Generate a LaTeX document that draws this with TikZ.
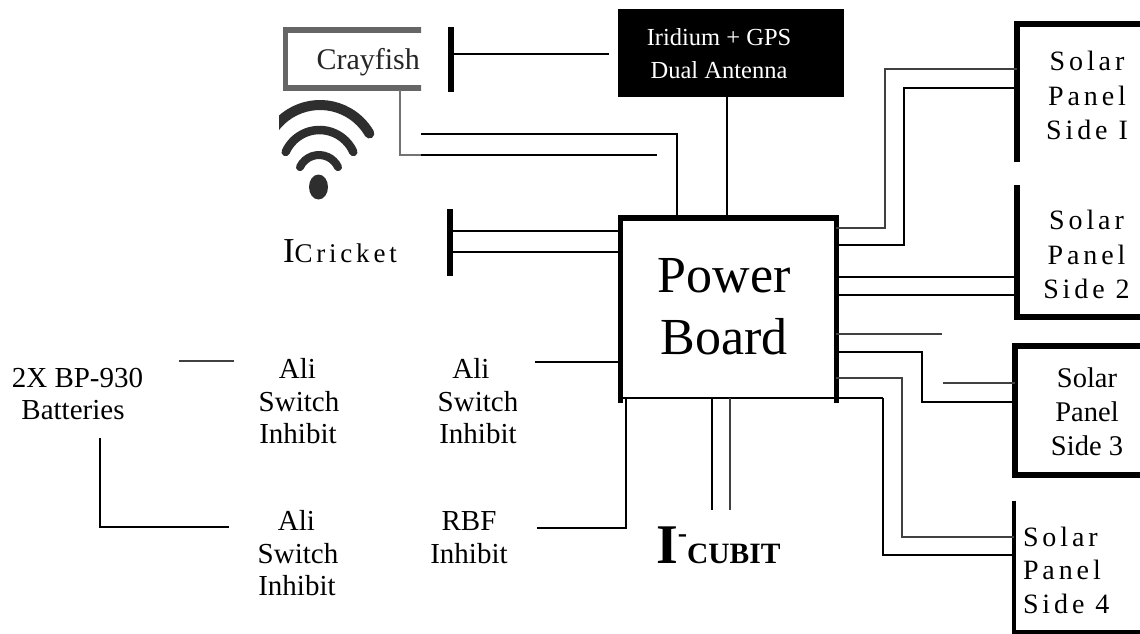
\documentclass[tikz,border=0pt]{standalone}
\usepackage{fontspec}
\setmainfont{Liberation Serif}
\newfontfamily\spaced[LetterSpace=14]{Liberation Serif}
\begin{document}
\begin{tikzpicture}[x=1pt,y=-1pt,
  wire/.style={draw=black,line width=1.8pt,line join=miter},
  thinwire/.style={draw=black!75,line width=1.5pt},
  bar/.style={draw=black,line width=6pt,line cap=butt},
  label/.style={inner sep=0pt,outer sep=0pt,align=center,font=\fontsize{29}{32.5}\selectfont},
  spaced label/.style={inner sep=0pt,outer sep=0pt,align=center,font=\fontsize{28}{34.5}\spaced},
  area/.style={inner sep=0pt,outer sep=0pt},
  scanline/.style={draw=black!60,line width=5.5pt},
  wifi/.style={draw=black!82,line cap=round}]
\useasboundingbox (0,0) rectangle (1140,633);

% scanned Crayfish picture, cut off at its right edge
\begin{scope}
  \clip (279,15) rectangle (421,215);
  \draw[scanline] (285.5,30) rectangle (440,88);
  \draw[draw=black!55,line width=1.8pt] (400,90) -- (400,155) -- (430,155);
  \node[area,anchor=base west,text=black!85,font=\fontsize{30}{30}\selectfont] (crayfish) at (316.5,69) {Crayfish};
  \begin{scope}[shift={(320,162)}]
    \draw[wifi,line width=10pt] (150:57pt) arc[start angle=150,end angle=30,radius=57pt];
  \end{scope}
  \begin{scope}[shift={(319.5,167)}]
    \draw[wifi,line width=8.5pt] (156:37pt) arc[start angle=156,end angle=24,radius=37pt];
  \end{scope}
  \begin{scope}[shift={(319,176)}]
    \draw[wifi,line width=8pt] (155:21pt) arc[start angle=155,end angle=25,radius=21pt];
  \end{scope}
  \fill[black!82] (318.5,187) ellipse[x radius=9.5pt,y radius=12.5pt];
\end{scope}

% named areas
\node[area,minimum width=216pt,minimum height=180pt] (pb) at (728,308) {};
\node[area,fill=black,minimum width=226pt,minimum height=88pt] (ant) at (731,53) {};
\node[area,minimum width=123pt,minimum height=138pt] (sp1) at (1078.5,93) {};
\node[area,minimum width=123pt,minimum height=131pt] (sp2) at (1078.5,251) {};
\node[area,minimum width=125pt,minimum height=129pt] (sp3) at (1077.5,410.5) {};
\node[area,minimum width=126pt,minimum height=131pt] (sp4) at (1077,566) {};
\coordinate (crayA) at (421,134);
\coordinate (crayB) at (421,155);
\coordinate (crayBar) at (451,54);
\coordinate (cricketBar) at (450,242);
\coordinate (antw) at (609,54);

% texts
\node[area,align=center,text=white,font=\fontsize{24.5}{33}\selectfont] (antt) at (719,54) {Iridium + GPS\\Dual Antenna};
\node[area,align=center,font=\fontsize{52}{62}\selectfont] (pbt) at (724,307) {Power\\Board};
\node[spaced label] (s1t) at (1087,95.5) {Solar\\Panel\\Side I};
\node[spaced label] (s2t) at (1086.5,254.5) {Solar\\Panel\\Side 2};
\node[label,font=\fontsize{28.5}{34}\selectfont] (s3t) at (1087,412) {Solar\\Panel\\Side 3};
\node[spaced label,anchor=west,align=left,font=\fontsize{28}{33.5}\spaced] (s4t) at (1023,570) {Solar\\Panel\\Side 4};
\node[area,anchor=base west] (cricket) at (283,262) {\fontsize{35}{35}\selectfont I\fontsize{27}{27}\spaced Cricket};
\node[label] (batt) at (77.5,394) {2X BP-930\\\hspace{-9pt}Batteries};
\node[label] (ali1) at (299,401.5) {\hspace{-3pt}Ali\\Switch\\\hspace{-2pt}Inhibit};
\begin{scope}
  \clip (420,340) rectangle (516,460);
  \node[label] (ali2) at (478,401.5) {\hspace{-14pt}Ali\\Switch\\Inhibit};
\end{scope}
\node[label] (ali3) at (298,553.5) {\hspace{-3pt}Ali\\Switch\\\hspace{-2pt}Inhibit};
\node[label] (rbf) at (469,537.5) {RBF\\Inhibit};
\node[area,anchor=base west,font=\bfseries] (cubit) at (656,563) {\fontsize{56}{56}\selectfont I\raisebox{21pt}{\fontsize{28}{28}\selectfont -}\fontsize{29.5}{29.5}\selectfont CUBIT};

% coordinates of free ends
\coordinate (ali2w) at (535,362);
\coordinate (rbfw) at (537,528);
\coordinate (batA) at (179,361);
\coordinate (aliA) at (234,361);
\coordinate (batB) at (100,438);
\coordinate (aliB) at (229,527);
\coordinate (cubA) at (712,510);
\coordinate (cubB) at (730,510);
\coordinate (panelstub) at (942,334);
\coordinate (panel3stub) at (943,383);

% power board outline
\draw[line width=6pt] (619,218) -- (838,218);
\draw[bar,line width=5pt] (pb.west |- 0,215) -- (pb.west |- 0,403);
\draw[bar,line width=5pt] (pb.east |- 0,215) -- (pb.east |- 0,403);
\draw[wire] (pb.west |- 0,398) -- (883,398);

% panels
\draw[bar] (sp1.west |- 0,162) -- (sp1.west |- 0,24) -- (sp1.north east);
\draw[bar] (sp2.west |- 0,185) -- (sp2.south west) -- (sp2.south east);
\draw[bar] (sp3.north east) -- (sp3.north west) -- (sp3.south west) -- (sp3.south east);
\draw[bar,line width=4pt] (sp4.north west) -- (sp4.south west) -- (sp4.south east);
\draw[draw=black!60,line width=1pt] (sp4.north east) -- (sp4.south east);

% small bars
\draw[bar] (crayBar |- 0,27) -- (crayBar |- 0,92);
\draw[bar,line width=5.5pt] (cricketBar |- 0,209) -- (cricketBar |- 0,276);

% connectors
\draw[wire] (crayBar) -- (antw);
\draw[wire] (ant.south -| 727,0) -- (pb.north -| 727,0);
\draw[wire] (crayA) -- (677,134) -- (pb.north -| 677,0);
\draw[wire,line width=2.2pt] (crayB) -- (657,155);
\draw[wire] (cricketBar |- 0,231) -- (pb.west |- 0,231);
\draw[wire] (cricketBar |- 0,252) -- (pb.west |- 0,252);
\draw[wire] (ali2w) -- (pb.west |- 0,362);
\draw[wire] (rbfw) -- (626,528) -- (626,398);
\draw[wire] (712,398) -- (cubA);
\draw[thinwire] (730,398) -- (cubB);
\draw[thinwire] (batA) -- (aliA);
\draw[wire] (batB) -- (100,527) -- (aliB);

\draw[thinwire] (pb.east |- 0,228) -- (885,228) -- (885,69) -- (sp1.west |- 0,69);
\draw[wire] (pb.east |- 0,245) -- (904,245) -- (904,88) -- (sp1.west |- 0,88);
\draw[wire] (pb.east |- 0,277) -- (sp2.west |- 0,277);
\draw[wire] (pb.east |- 0,295) -- (sp2.west |- 0,295);
\draw[thinwire] (pb.east |- 0,334) -- (panelstub);
\draw[wire] (pb.east |- 0,352) -- (922,352) -- (922,402) -- (sp3.west |- 0,402);
\draw[thinwire] (panel3stub) -- (sp3.west |- 0,383);
\draw[thinwire] (pb.east |- 0,378) -- (902,378) -- (902,537) -- (sp4.west |- 0,537);
\draw[wire] (883,398) -- (883,555) -- (sp4.west |- 0,555);
\end{tikzpicture}
\end{document}
